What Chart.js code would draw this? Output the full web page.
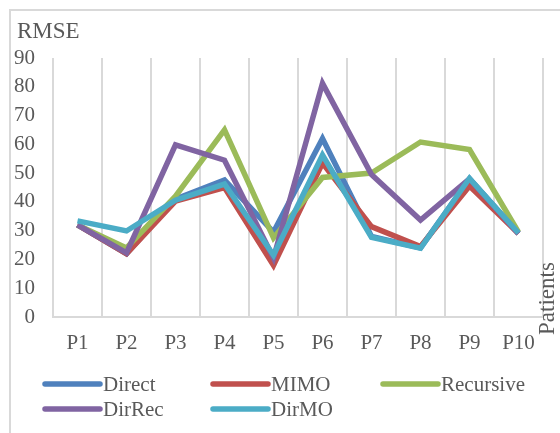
<!DOCTYPE html>
<html>
<head>
<meta charset="utf-8">
<script src="https://cdn.jsdelivr.net/npm/chart.js@4"></script>
<style>
  body { margin: 0; background: #fff; }
  canvas { display: block; }
</style>
</head>
<body>
<canvas id="rmseChart" width="560" height="433"></canvas>
<script>
const patients = ["P1", "P2", "P3", "P4", "P5", "P6", "P7", "P8", "P9", "P10"];
const direct = [32, 22, 41, 47.6, 29.5, 62, 28, 24, 48, 29];
const mimo = [32, 22, 40.3, 45, 18, 53.5, 31.4, 24.5, 45.5, 29];
const recursive = [32, 24, 42, 65, 27.5, 48.5, 50, 60.8, 58.2, 29.5];
const dirRec = [32, 22.3, 59.8, 54.5, 20.5, 81.2, 49.5, 33.7, 48, 29];
const dirMO = [33.4, 29.9, 40.6, 46.2, 21.5, 56.3, 27.7, 23.9, 48.2, 29.2];
const seriesNames = ["Direct", "MIMO", "Recursive", "DirRec", "DirMO"];
const seriesColors = ["#4F81BD", "#C0504D", "#9BBB59", "#8064A2", "#4BACC6"];
const yTicks = [0, 10, 20, 30, 40, 50, 60, 70, 80, 90];

const font = "'Liberation Serif', 'Times New Roman', serif";
const textColor = "#595959";

// excel-like frame, titles and a column legend
const extras = {
  id: "extras",
  beforeDraw(chart) {
    const ctx = chart.ctx;
    ctx.save();
    ctx.strokeStyle = "#d9d9d9";
    ctx.lineWidth = 2;
    ctx.strokeRect(10, 10, 600, 500);
    ctx.restore();
  },
  afterDraw(chart) {
    const ctx = chart.ctx;
    ctx.save();
    ctx.fillStyle = textColor;
    ctx.font = "23px " + font;
    ctx.textBaseline = "alphabetic";
    ctx.fillText("RMSE", 17, 38);

    ctx.save();
    ctx.translate(554, 335);
    ctx.rotate(-Math.PI / 2);
    ctx.fillText("Patients", 0, 0);
    ctx.restore();

    const cols = [45, 213, 383];
    const rows = [384, 409];
    ctx.font = "21px " + font;
    ctx.textBaseline = "middle";
    chart.data.datasets.forEach((ds, i) => {
      const x = cols[i % 3];
      const y = rows[Math.floor(i / 3)];
      ctx.strokeStyle = ds.borderColor;
      ctx.lineWidth = 5.5;
      ctx.lineCap = "round";
      ctx.beginPath();
      ctx.moveTo(x, y);
      ctx.lineTo(x + 55, y);
      ctx.stroke();
      ctx.fillStyle = textColor;
      ctx.fillText(ds.label, x + 58, y + 1);
    });
    ctx.restore();
  },
};

function drawChart() {
  const values = [direct, mimo, recursive, dirRec, dirMO];
  const datasets = values.map((data, i) => ({
    label: seriesNames[i],
    data,
    borderColor: seriesColors[i],
    backgroundColor: seriesColors[i],
    borderWidth: 5.5,
    borderJoinStyle: "miter",
    pointRadius: 0,
    tension: 0,
    order: values.length - i,
  }));

  new Chart(document.getElementById("rmseChart"), {
    type: "line",
    data: { labels: patients, datasets },
    options: {
      responsive: false,
      animation: false,
      layout: { padding: { top: 58, right: 17, left: 0, bottom: 0 } },
      plugins: { legend: { display: false }, tooltip: { enabled: false } },
      scales: {
        x: {
          offset: true,
          grid: { offset: true, color: "#d9d9d9", lineWidth: 2, drawTicks: false },
          border: { color: "#d9d9d9", width: 2 },
          ticks: { color: textColor, font: { family: font, size: 21 }, padding: 14, maxRotation: 0 },
          afterFit: (s) => { s.height = 116; },
        },
        y: {
          min: 0,
          max: 90,
          afterBuildTicks: (s) => { s.ticks = yTicks.map((v) => ({ value: v })); },
          grid: { display: false, drawTicks: false },
          border: { display: false },
          ticks: { color: textColor, font: { family: font, size: 21 }, padding: 18 },
          afterFit: (s) => { s.width = 53; },
        },
      },
    },
    plugins: [extras],
  });
}

drawChart();
</script>
</body>
</html>
